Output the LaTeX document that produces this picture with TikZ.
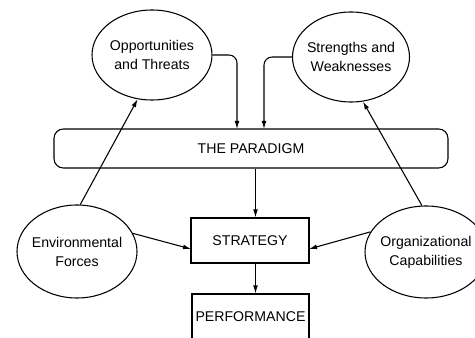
\documentclass[tikz,border=0pt]{standalone}
\usepackage{fontspec}
\setmainfont{Liberation Sans}
\usetikzlibrary{shapes,arrows.meta}

\begin{document}
\begin{tikzpicture}[x=0.75pt, y=-0.75pt,
        font=\fontsize{10.6}{14.2}\selectfont, line width=0.8pt,
        >={Latex[length=6pt,width=3.6pt]},
        oval/.style={draw, ellipse, inner xsep=-20pt, inner ysep=0pt, align=center},
        box/.style={draw, rectangle, inner sep=0pt, align=center}]
        \useasboundingbox (0, 0) rectangle (475, 338);
        \node [oval, minimum width=90pt, minimum height=67.5pt] (OT) at (152, 55) {Opportunities\\and Threats};
        \node [oval, minimum width=87.75pt, minimum height=67.5pt] (SW) at (351, 57) {Strengths and\\Weaknesses};
        \node [box, rounded corners=7pt, minimum width=295.5pt, minimum height=29.25pt] (PD) at (251, 148.5) {THE PARADIGM};
        \node [box, minimum width=88.5pt, minimum height=33.75pt] (ST) at (250, 240.5) {STRATEGY};
        \node [box, minimum width=87.75pt, minimum height=34.1pt] (PF) at (250.5, 316.75) {PERFORMANCE};
        \node [oval, minimum width=90pt, minimum height=69.75pt] (EF) at (77, 251.5) {Environmental\\Forces};
        \node [oval, minimum width=91.5pt, minimum height=69pt] (OC) at (426, 252) {Organizational\\Capabilities};
        \coordinate (OTin) at (237, 129);
        \coordinate (SWin) at (264, 129);
        \coordinate (MID)  at (255.5, 0);
        \coordinate (STl)  at (191, 249);
        \coordinate (STr)  at (309, 249);
        \draw [->, rounded corners=6pt] (OT.east) -| (OTin);
        \draw [->, rounded corners=6pt] (SW.west) -| (SWin);
        \draw [->] (EF.86)  -- (OT.-108);
        \draw [->] (OC.95)  -- (SW.-75);
        \draw [->] (PD.south -| MID) -- (ST.north -| MID);
        \draw [->] (ST.south -| MID) -- (PF.north -| MID);
        \draw [->] (EF.18)  -- (STl);
        \draw [->] (OC.160) -- (STr);
\end{tikzpicture}
\end{document}
